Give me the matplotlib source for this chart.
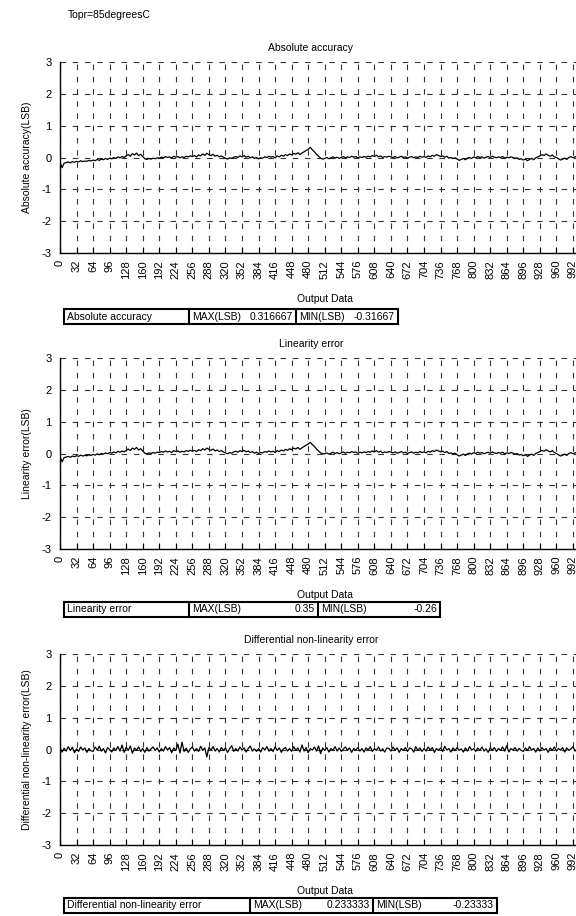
"""
plot.py
-------
ADC error curves at Topr=85degreesC (absolute accuracy, linearity, DNL)
"""

from matplotlib import pyplot as plt
from matplotlib.patches import Rectangle
import numpy as np

plt.rcParams['font.family'] = ['Liberation Sans', 'DejaVu Sans']
plt.rcParams['font.size'] = 7.5
plt.rcParams['axes.unicode_minus'] = False

# output codes, sampled every 4 codes
codes = list(range(0, 1024, 4))

# absolute accuracy, in 1/100 LSB
abs_accuracy = [
    -15, -32, -18, -16, -14, -17, -13, -15, -12, -14, -10, -13, -11, -12, -9, -11,
    -8, -10, -6, -9, -5, -7, -3, -6, -2, -4, 0, -3, 2, -1, 3, 0,
    5, 9, 4, 12, 8, 14, 6, 10, 3, -4, -6, -3, -5, -2, -4, -1,
    -2, 1, -1, 3, 0, 2, -2, 4, 1, 3, -1, 2, 0, 4, 2, 5,
    3, 6, 2, 8, 5, 11, 7, 13, 9, 6, 10, 4, 7, 2, 5, 1,
    -2, -5, -1, -3, 1, 3, 0, 5, 2, 6, 1, 4, -1, 2, -3, 0,
    -4, -1, -2, 2, 0, 4, 1, 3, -1, 5, 2, 7, 4, 9, 6, 11,
    8, 13, 10, 15, 9, 14, 18, 22, 26, 32, 24, 18, 10, 4, -2, -5,
    -3, 0, -4, -1, 2, -2, 1, -3, 0, 3, -1, 2, 0, 4, 1, 3,
    -1, 2, 0, 3, 1, 4, 2, 6, 3, 7, 2, 5, 0, 3, 1, 4,
    2, 0, 3, -1, 1, 4, 0, 2, -2, 1, 3, -1, 2, 0, 4, 1,
    3, 0, 5, 2, 7, 4, 9, 6, 3, 5, 1, 4, -2, 0, -3, -1,
    -5, -9, -6, -3, -7, -2, 0, -3, 2, -1, 3, 0, 2, -2, 1, 3,
    0, 4, 1, -1, 2, 0, 3, -2, 1, -1, 2, 0, -3, -1, -6, -4,
    -8, -5, -10, -6, -3, -7, -1, 2, 5, 9, 6, 11, 7, 4, 8, 2,
    0, -4, -8, -5, -2, -6, 0, 3, -1, 2, 4, 0, 3, 1, 5, 2,
]

# linearity error, in 1/100 LSB
linearity = [
    -10, -26, -13, -11, -9, -12, -8, -10, -7, -9, -5, -8, -6, -7, -4, -6,
    -3, -5, -1, -4, 0, -2, 2, -1, 3, 1, 5, 2, 7, 4, 8, 5,
    10, 14, 9, 17, 13, 19, 11, 15, 8, 1, -1, 2, 0, 3, 1, 4,
    3, 6, 4, 8, 5, 7, 3, 9, 6, 8, 4, 7, 5, 9, 7, 10,
    7, 10, 6, 12, 9, 15, 11, 17, 13, 10, 14, 8, 11, 6, 9, 5,
    2, -1, 3, 1, 5, 7, 4, 9, 6, 10, 5, 8, 3, 6, 1, 4,
    0, 3, 2, 6, 4, 8, 5, 7, 3, 9, 6, 11, 8, 13, 10, 15,
    12, 17, 14, 19, 13, 18, 22, 26, 30, 35, 28, 22, 14, 8, 2, -1,
    -1, 2, -2, 1, 4, 0, 3, -1, 2, 5, 1, 4, 2, 6, 3, 5,
    1, 4, 2, 5, 3, 6, 4, 8, 5, 9, 4, 7, 2, 5, 3, 6,
    4, 2, 5, 1, 3, 6, 2, 4, 0, 3, 5, 1, 4, 2, 6, 3,
    5, 2, 7, 4, 9, 6, 11, 8, 5, 7, 3, 6, 0, 2, -1, 1,
    -4, -8, -5, -2, -6, -1, 1, -2, 3, 0, 4, 1, 3, -1, 2, 4,
    1, 5, 2, 0, 3, 1, 4, -1, 2, 0, 3, 1, -2, 0, -5, -3,
    -7, -4, -9, -5, -2, -6, 0, 3, 6, 10, 7, 12, 8, 5, 9, 3,
    0, -4, -8, -5, -2, -6, 0, 3, -1, 2, 4, 0, 3, 1, 5, 2,
]

# differential non-linearity error, in 1/100 LSB
dnl = [
    6, -8, 4, -5, 9, -3, 7, -10, 2, -6, 8, -2, 5, -9, 3, -4,
    -6, 8, -2, 10, -5, 3, -11, 6, 0, -8, 5, -3, 9, -5, 14, -9,
    7, -3, 11, -12, 5, -2, 8, -6, 3, -9, 6, -5, 2, 8, -3, 5,
    -8, 3, -5, 9, -2, 6, -10, 5, -3, 17, -11, 23, -6, 4, -9, 2,
    8, -5, 3, -6, 10, -3, 5, -23, 6, -2, 9, -5, 3, -8, 6, -3,
    5, -9, 2, 12, -6, 3, -5, 8, -2, 5, -8, 3, 11, -5, 2, -6,
    3, -8, 6, -2, 9, -5, 3, -6, 8, -3, 5, -9, 2, 6, -5, 3,
    -6, 9, -3, 5, -8, 14, -5, 6, -10, 3, -2, 8, -5, 11, -13, 5,
    -3, 6, -8, 3, -2, 9, -5, 5, -6, 2, 8, -3, 5, -9, 3, -2,
    6, -5, 3, -8, 5, -2, 9, -6, 3, -3, 8, -5, 2, -8, 5, 3,
    -5, 8, -2, 5, -9, 3, -3, 6, -6, 5, 2, -8, 9, -3, 5, -6,
    3, -5, 8, -2, 6, -9, 3, -3, 5, -6, 10, -2, 3, -8, 5, -3,
    6, -3, 2, -8, 5, -5, 9, -2, 3, -6, 5, -3, 8, -5, 2, -9,
    5, -2, 6, -6, 3, -3, 8, -5, 12, -8, 3, -2, 6, -5, 3, -3,
    -6, 5, -3, 9, -2, 3, -8, 5, -5, 6, -2, 3, -9, 5, -3, 8,
    -5, 3, -2, 6, -8, 5, -3, 2, 9, -5, 3, -6, 5, -2, 8, -3,
]

titles = ["Absolute accuracy", "Linearity error", "Differential non-linearity error"]
ylabels = ["Absolute accuracy(LSB)", "Linearity error(LSB)",
           "Differential non-linearity error(LSB)"]
max_text = ["0.316667", "0.35", "0.233333"]
min_text = ["-0.31667", "-0.26", "-0.23333"]
# table cell edges (px) per panel: name | MAX | MIN
table_cells = [(64, 189, 296, 398), (64, 189, 318, 440), (64, 250, 373, 497)]
table_tops = [309, 602, 898]

W, H = 576, 916
fig = plt.figure(figsize=(W / 100, H / 100), dpi=100)

series = [abs_accuracy, linearity, dnl]
period = 296
dash = (0, (5, 6))

for k in range(3):
    top = 62 + period * k
    bot = 253 + period * k
    ax = fig.add_axes([60 / W, 1 - bot / H, 529 / W, (bot - top) / H])
    ax.plot(codes, np.array(series[k]) / 100, color='k', lw=0.9)
    ax.set_xlim(0, 1023)
    ax.set_ylim(-3, 3)
    ax.set_xticks(range(0, 1024, 32))
    ax.set_xticklabels([str(c) for c in range(0, 1024, 32)], rotation=90)
    ax.set_yticks(range(-3, 4))
    ax.grid(True, color='#333333', lw=0.8, linestyle=dash)
    ax.tick_params(axis='x', direction='in', length=4, pad=5, width=0.8,
                   labelsize=8)
    ax.tick_params(axis='y', direction='in', length=0, pad=6, labelsize=8)
    for s in ('top', 'right'):
        ax.spines[s].set_visible(False)
    for s in ('left', 'bottom'):
        ax.spines[s].set_linewidth(1.0)
    ax.set_xlabel("Output Data", labelpad=11)
    fig.text(311 / W, 1 - (48 + period * k) / H, titles[k],
             ha='center', va='center')
    fig.text(27 / W, 1 - (top + bot) / 2 / H, ylabels[k],
             rotation=90, ha='center', va='center')

# overlay in pixel coordinates for the text boxes below each plot
ov = fig.add_axes([0, 0, 1, 1])
ov.set_xlim(0, W)
ov.set_ylim(H, 0)
ov.axis('off')
ov.patch.set_visible(False)
for k in range(3):
    y0 = table_tops[k]
    h = 15
    x0, x1, x2, x3 = table_cells[k]
    ov.add_patch(Rectangle((x0, y0), x3 - x0, h, fill=False, lw=1.5, ec='k'))
    ov.plot([x1, x1], [y0, y0 + h], color='k', lw=1.5)
    ov.plot([x2, x2], [y0, y0 + h], color='k', lw=1.5)
    yc = y0 + h / 2
    ov.text(x0 + 3, yc, titles[k], ha='left', va='center')
    ov.text(x1 + 3, yc, "MAX(LSB)", ha='left', va='center')
    ov.text(x2 - 3, yc, max_text[k], ha='right', va='center')
    ov.text(x2 + 3, yc, "MIN(LSB)", ha='left', va='center')
    ov.text(x3 - 3, yc, min_text[k], ha='right', va='center')

fig.text(68 / W, 1 - 15 / H, "Topr=85degreesC", ha='left', va='center')

fig.savefig("out.png", dpi=100)
